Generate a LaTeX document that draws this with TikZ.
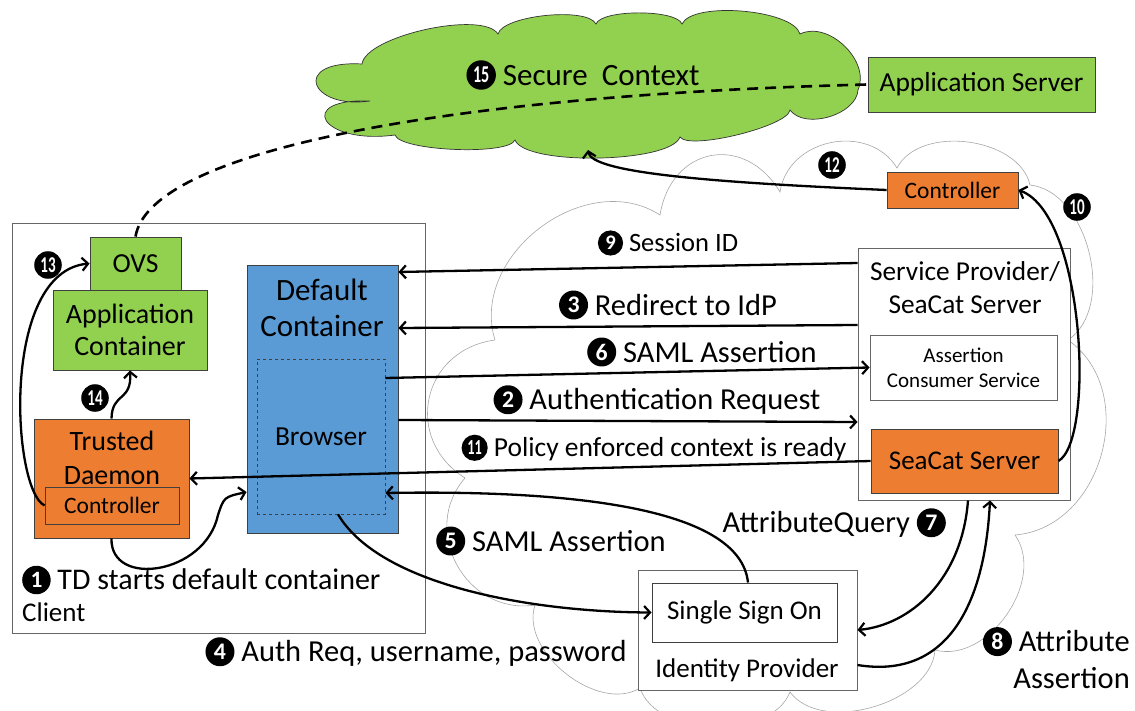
\documentclass[tikz,border=0pt]{standalone}
\usepackage{fontspec}
\setmainfont{Carlito}
\usetikzlibrary{arrows.meta,calc}
\definecolor{pgreen}{HTML}{92D050}
\definecolor{porange}{HTML}{ED7D31}
\definecolor{pblue}{HTML}{5B9BD5}
\newcommand{\cn}[1]{\tikz[baseline={([yshift=-0.33em]cnode.center)}]\node[circle,fill=black,text=white,inner sep=0pt,minimum size=0.95em](cnode){\scalebox{0.78}{\bfseries #1}};}
\newcommand{\cnn}[1]{\tikz[baseline={([yshift=-0.33em]cnode.center)}]\node[circle,fill=black,text=white,inner sep=0pt,minimum size=0.95em](cnode){\scalebox{0.52}[0.78]{\bfseries #1}};}
\tikzset{
  box/.style={draw=black!75, line width=0.9pt, inner sep=0pt},
  gbox/.style={box, fill=pgreen},
  obox/.style={box, fill=porange},
  wbox/.style={box, fill=white},
  lbl/.style={font=\fontsize{30.5}{34}\selectfont, inner sep=0pt},
  num/.style={font=\fontsize{29}{32}\selectfont, inner sep=0pt},
  arr/.style={line width=2.3pt, -{Straight Barb[length=6pt,width=13pt,line width=2.2pt]}},
  lobe/.style={bend left=70, looseness=#1},
}
\begin{document}
\begin{tikzpicture}[x=1pt,y=-1pt]
\useasboundingbox (0,0) rectangle (1135,711);
% grey cloud (network)
\draw[draw=black!35, line width=0.6pt]
  (495,340) to[lobe=1.09] (660,215) to[lobe=1.45] (780,192) to[lobe=1.16] (897,168)
  to[lobe=0.94] (1030,185) to[lobe=0.94] (1068,340) to[lobe=1.12] (1015,535)
  to[lobe=1.0] (935,650) to[lobe=0.9] (790,692) to[lobe=0.9] (640,688)
  to[lobe=0.94] (535,605) to[lobe=1.23] (465,478) to[lobe=1.34] (495,340);
% green cloud (secure context)
\draw[fill=pgreen, draw=black!80, line width=0.7pt]
  (362,64) to[lobe=0.52] (498,34) to[lobe=0.5] (596,24) to[lobe=0.47] (682,24)
  to[lobe=0.55] (800,34) to[lobe=1.0] (858,90) to[lobe=0.9] (790,110)
  to[lobe=0.37] (680,137) to[lobe=0.43] (515,140) to[lobe=0.36] (395,135)
  .. controls (320,145) and (295,98) .. (370,101)
  .. controls (310,110) and (290,60) .. (362,64) -- cycle;
\node[lbl, font=\fontsize{31}{34}\selectfont] (l15) at (583,75) {\cnn{15} Secure\hspace{0.45em}Context};
\node[gbox, minimum width=227pt, minimum height=55pt, font=\fontsize{27.5}{30}\selectfont] (appsrv) at (981.5,84.5) {Application Server};

% client
\node[box, draw=black!60, minimum width=413pt, minimum height=410pt] (client) at (218.5,428) {};
\node[gbox, minimum width=154pt, minimum height=80pt, align=center, font=\fontsize{28}{32}\selectfont] (appc) at (130,330) {Application\\Container};
\node[gbox, minimum width=91pt, minimum height=53pt, font=\fontsize{27.5}{30}\selectfont] (ovs) at (135.5,263.5) {OVS};
\node[obox, minimum width=155pt, minimum height=119pt] (td) at (111.5,478.5) {};
\node[lbl, align=center, font=\fontsize{28}{34}\selectfont] (tdtext) at (112,458) {Trusted\\Daemon};
\node[obox, minimum width=134pt, minimum height=37pt, font=\fontsize{23.5}{27}\selectfont] (tdctrl) at (112,505.5) {Controller};
\node[box, fill=pblue, minimum width=151pt, minimum height=268pt] (dc) at (322.5,399) {};
\node[lbl, align=center, font=\fontsize{31}{36}\selectfont] (dctext) at (322,308) {Default\\Container};
\node[box, dashed, line width=0.7pt, minimum width=128pt, minimum height=155pt, font=\fontsize{27.5}{30}\selectfont] (browser) at (321,436.5) {Browser};
\node[lbl, anchor=west, font=\fontsize{30}{34}\selectfont] (l1) at (22,580) {\cn{1} TD starts default container};
\node[lbl, anchor=west, font=\fontsize{27}{30}\selectfont] (clientlbl) at (22,612) {Client};

% service provider
\node[wbox, draw=black!60, minimum width=212pt, minimum height=252pt] (sp) at (964,374) {};
\node[lbl, align=center, font=\fontsize{27.3}{33}\selectfont] (sptext) at (965,288) {Service Provider/\\SeaCat Server};
\node[wbox, draw=black!60, minimum width=187pt, minimum height=65pt, align=center, font=\fontsize{21}{25}\selectfont] (acs) at (963.5,367.5) {Assertion\\Consumer Service};
\node[obox, minimum width=187pt, minimum height=64pt, font=\fontsize{27}{30}\selectfont] (scs) at (964.5,461) {SeaCat Server};
\node[obox, minimum width=131pt, minimum height=36pt, font=\fontsize{23.5}{27}\selectfont] (ctrl) at (952.5,190) {Controller};

% identity provider
\node[wbox, draw=black!60, minimum width=219pt, minimum height=120pt] (idp) at (747.5,630) {};
\node[lbl, font=\fontsize{27}{30}\selectfont] (idptext) at (747,670) {Identity Provider};
\node[wbox, minimum width=185pt, minimum height=59pt, font=\fontsize{27}{30}\selectfont] (sso) at (744.5,612.5) {Single Sign On};

% labels
\node[lbl, font=\fontsize{26.5}{30}\selectfont] (l9) at (668,243) {\cn{9} Session ID};
\node[lbl] (l3) at (668,305) {\cn{3} Redirect to IdP};
\node[lbl] (l6) at (702,352) {\cn{6} SAML Assertion};
\node[lbl] (l2) at (657,400) {\cn{2} Authentication Request};
\node[lbl, font=\fontsize{27.5}{30}\selectfont] (l11) at (654,448) {\cnn{11} Policy enforced context is ready};
\node[lbl] (l5) at (551,541) {\cn{5} SAML Assertion};
\node[lbl] (l4) at (416,652) {\cn{4} Auth Req, username, password};
\node[lbl, anchor=east] (l7) at (946,523) {AttributeQuery \cn{7}};
\node[lbl, anchor=east, align=right, font=\fontsize{30.5}{37}\selectfont] (l8) at (1130,658) {\cn{8} Attribute\\Assertion};
\node[num] (l12) at (832,165) {\cnn{12}};
\node[num] (l13) at (48,265) {\cnn{13}};
\node[num] (l14) at (95,398) {\cnn{14}};
\node[num] (l10) at (1077,207) {\cnn{10}};

% connectors
\draw[line width=2.6pt, dash pattern=on 11pt off 7pt] (ovs.north) .. controls (150,150) and (450,95) .. (appsrv.west);
\draw[arr] (sp.west |- 0,263) -- (dc.east |- 0,272);
\draw[arr] (sp.west |- 0,325) -- (dc.east |- 0,328);
\draw[arr] (browser.east |- 0,378) -- (acs.west);
\draw[arr] (dc.east |- 0,420) -- (sp.west |- 0,422);
\draw[arr] (scs.west) -- (td.east);
\draw[arr] (sso.north -| 748,0) .. controls (740,505) and (560,490) .. (browser.east |- 0,493);
\draw[arr] (browser.south -| 338,0) .. controls (380,585) and (530,612) .. (sso.west);
\draw[arr] (sp.south -| 968,0) .. controls (962,580) and (910,625) .. (idp.east);
\draw[arr] (idp.east |- 0,665) .. controls (950,680) and (985,600) .. (sp.south -| 990,0);
\draw[arr] (scs.east) .. controls (1095,440) and (1085,215) .. (ctrl.east);
\coordinate (c12) at (588,150);
\draw[arr] (ctrl.west) .. controls (700,182) and (592,172) .. (c12);
\draw[arr] (tdctrl.west) .. controls (12,490) and (0,272) .. (ovs.west);
\draw[arr] (td.north) .. controls (112,392) and (132,402) .. (appc.south);
\draw[arr] (td.south) .. controls (110,588) and (205,575) .. (218,515) .. controls (224,497) .. (dc.west |- 0,492);
\end{tikzpicture}
\end{document}
